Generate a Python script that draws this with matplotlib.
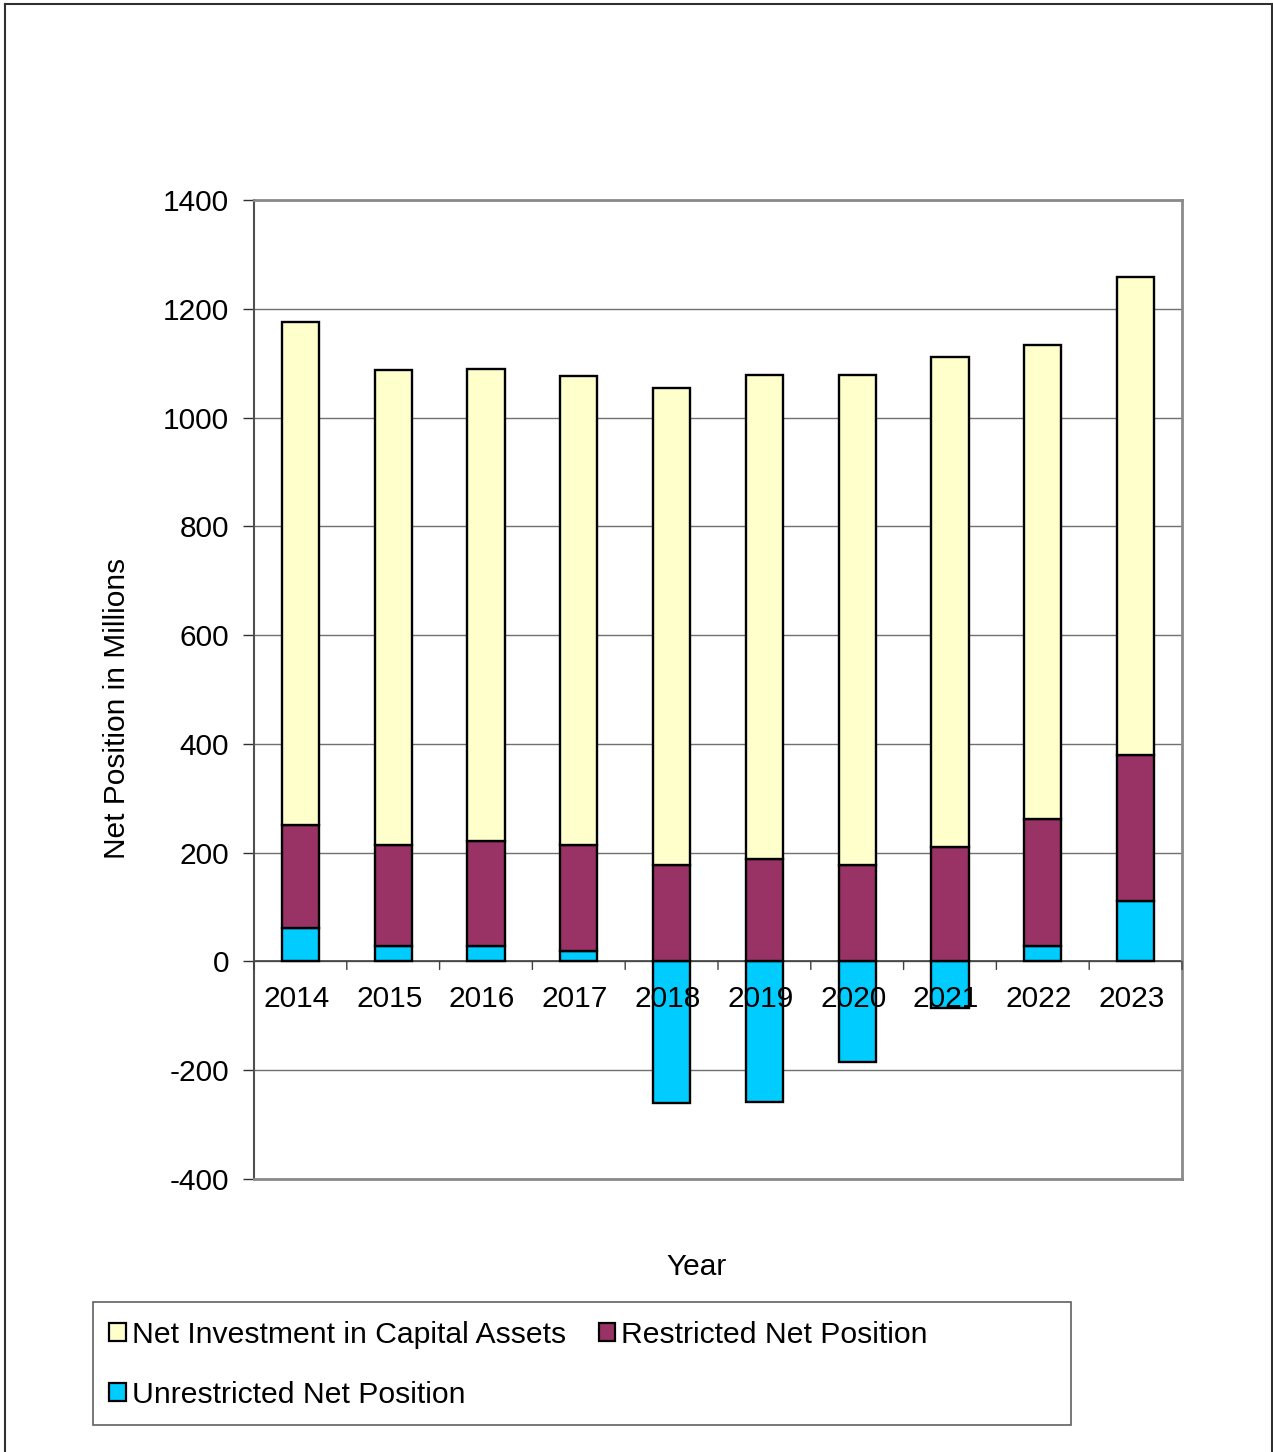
import matplotlib
matplotlib.use("Agg")
import matplotlib.pyplot as plt
import matplotlib.transforms as mtransforms
from matplotlib.patches import Patch, Rectangle
from matplotlib.lines import Line2D
import numpy as np

plt.rcParams['font.family'] = ['Liberation Sans', 'DejaVu Sans']

# Net position components, in millions of dollars
years = ['2014', '2015', '2016', '2017', '2018', '2019', '2020', '2021', '2022', '2023']
net_investment = [926, 873, 868, 862, 877, 890, 901, 902, 873, 880]
restricted = [189, 187, 194, 195, 178, 189, 178, 210, 233, 267]
unrestricted = [61, 28, 28, 20, -261, -259, -184, -86, 28, 112]

y_ticks = [-400, -200, 0, 200, 400, 600, 800, 1000, 1200, 1400]

C_NET = '#FFFFCC'
C_RES = '#993366'
C_UNR = '#00CCFF'
FS = 21.5

W, H = 1273, 1452
fig = plt.figure(figsize=(W / 100, H / 100), dpi=100)
ax = fig.add_axes([254 / W, 1 - 1179 / H, (1182 - 254) / W, (1179 - 200) / H])

x = np.arange(len(years))
unr = np.array(unrestricted, dtype=float)
res = np.array(restricted, dtype=float)
net = np.array(net_investment, dtype=float)
base_pos = np.clip(unr, 0, None)

bw = 0.4
kw = dict(width=bw, edgecolor='black', linewidth=1.7, zorder=3)
ax.bar(x, unr, color=C_UNR, **kw)
ax.bar(x, res, bottom=base_pos, color=C_RES, **kw)
ax.bar(x, net, bottom=base_pos + res, color=C_NET, **kw)

ax.set_xlim(-0.5, len(years) - 0.5)
ax.set_ylim(y_ticks[0], y_ticks[-1])
ax.set_yticks(y_ticks)
ax.set_yticklabels([str(v) for v in y_ticks], fontsize=FS)
ax.tick_params(axis='y', direction='out', length=8, width=1, color='#303030', pad=10)
ax.set_xticks([])

ax.grid(axis='y', color='#707070', linewidth=1, zorder=0)
ax.set_axisbelow(True)

for side in ['top', 'right', 'bottom']:
    ax.spines[side].set_color('#8a8a8a')
    ax.spines[side].set_linewidth(2)
ax.spines['left'].set_color('#505050')
ax.spines['left'].set_linewidth(1.5)

# category axis along the zero line
ax.axhline(0, color='#404040', linewidth=1.2, zorder=2)
bounds = np.arange(len(years) + 1) - 0.5
for b in bounds:
    ax.annotate('', xy=(b, 0), xytext=(0, -8), textcoords='offset pixels',
                xycoords='data',
                arrowprops=dict(arrowstyle='-', color='#404040', lw=1,
                                shrinkA=0, shrinkB=0), zorder=4)
lab_tr = mtransforms.offset_copy(ax.transData, fig=fig, x=-4, y=-38, units='dots')
for i, yr in enumerate(years):
    ax.text(i, 0, yr, transform=lab_tr, ha='center', va='center',
            fontsize=FS, zorder=5)

fig.text(117 / W, 1 - 708 / H, 'Net Position in Millions', rotation=90,
         ha='center', va='center', fontsize=FS)
fig.text(697 / W, 1 - 1267 / H, 'Year', ha='center', va='center', fontsize=FS)

# legend box
fig.add_artist(Rectangle((93 / W, 1 - 1425 / H), (1071 - 93) / W, (1425 - 1302) / H,
                         transform=fig.transFigure, facecolor='white',
                         edgecolor='#606060', linewidth=1.2, zorder=1))
handles = [
    Patch(facecolor=C_NET, edgecolor='black', linewidth=1.6, label='Net Investment in Capital Assets'),
    Patch(facecolor=C_UNR, edgecolor='black', linewidth=1.6, label='Unrestricted Net Position'),
    Patch(facecolor=C_RES, edgecolor='black', linewidth=1.6, label='Restricted Net Position'),
]
leg = fig.legend(handles=handles, ncol=2, loc='upper left',
                 bbox_to_anchor=(109 / W, 1 - 1321 / H),
                 borderaxespad=0, fontsize=FS + 0.2, borderpad=0,
                 handlelength=0.55, handleheight=0.55, handletextpad=0.2,
                 columnspacing=1.1, labelspacing=1.05,
                 frameon=False)
leg.set_zorder(2)

# page border
fig.add_artist(Line2D([5 / W, 5 / W], [0, 1 - 4 / H], transform=fig.transFigure, color='#303030', lw=1.5))
fig.add_artist(Line2D([5 / W, 1272 / W], [1 - 4 / H, 1 - 4 / H], transform=fig.transFigure, color='#303030', lw=1.5))
fig.add_artist(Line2D([1272 / W, 1272 / W], [0, 1 - 4 / H], transform=fig.transFigure, color='#303030', lw=1.5))

fig.savefig('out.png', dpi=100, facecolor='white')
